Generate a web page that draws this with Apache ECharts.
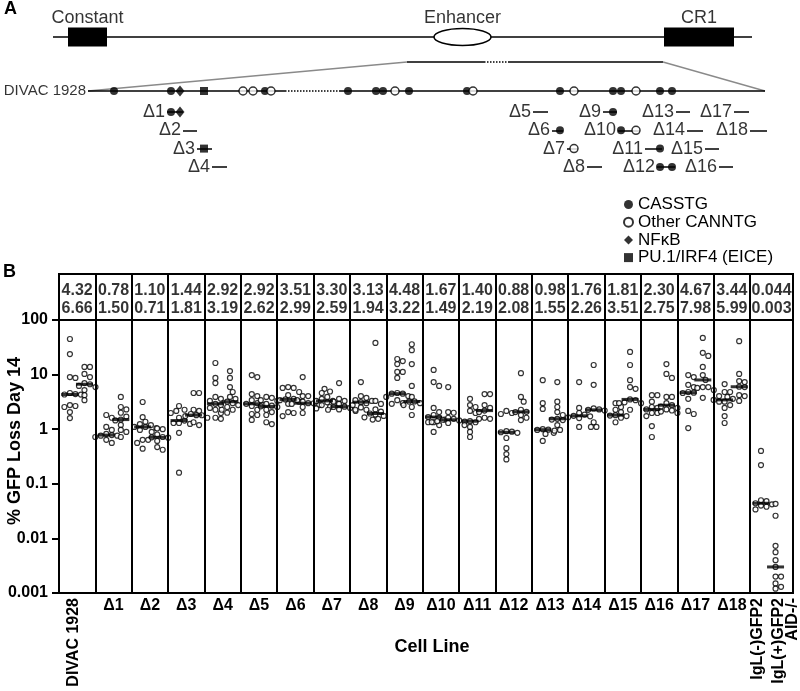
<!DOCTYPE html>
<html>
<head>
<meta charset="utf-8">
<script src="https://cdn.jsdelivr.net/npm/echarts@6/dist/echarts.min.js"></script>
<style>
  html, body { margin: 0; padding: 0; background: #fff; }
  #main { width: 800px; height: 691px; }
</style>
</head>
<body>
<div id="main"></div>
<script>
const FONT = '"Liberation Sans", Arial, Helvetica, sans-serif';

// ---------- panel B data ----------
const cellLines = ['DIVAC 1928', 'Δ1', 'Δ2', 'Δ3', 'Δ4', 'Δ5', 'Δ6', 'Δ7', 'Δ8', 'Δ9',
  'Δ10', 'Δ11', 'Δ12', 'Δ13', 'Δ14', 'Δ15', 'Δ16', 'Δ17', 'Δ18'];
const controlLines = ['IgL(-)GFP2', 'IgL(+)GFP2\nAID-/-'];

// medians printed in the table (row 1 = first group, row 2 = second group)
const medianA = [4.32, 0.78, 1.10, 1.44, 2.92, 2.92, 3.51, 3.30, 3.13, 4.48,
  1.67, 1.40, 0.88, 0.98, 1.76, 1.81, 2.30, 4.67, 3.44, 0.044];
const medianB = [6.66, 1.50, 0.71, 1.81, 3.19, 2.62, 2.99, 2.59, 1.94, 3.22,
  1.49, 2.19, 2.08, 1.55, 2.26, 3.51, 2.75, 7.98, 5.99, 0.003];

// % GFP loss at day 14, one list per cell line
const lossA = [
  [44.9, 23.8, 9.0, 8.7, 4.6, 4.4, 4.32, 4.3, 2.77, 2.66, 2.55, 2.06, 1.6],
  [1.82, 1.62, 1.10, 0.97, 0.82, 0.78, 0.76, 0.76, 0.72, 0.64, 0.56],
  [3.15, 1.66, 1.37, 1.24, 1.19, 1.10, 1.10, 1.05, 0.97, 0.64, 0.64, 0.56, 0.44],
  [2.66, 2.27, 2.16, 1.98, 1.62, 1.44, 1.30, 1.30, 1.25, 0.86, 0.16],
  [16.3, 8.7, 7.0, 3.9, 3.6, 3.3, 2.92, 2.77, 2.45, 2.27, 1.98, 1.62, 1.55],
  [9.8, 9.0, 4.4, 4.05, 3.4, 3.0, 2.92, 2.77, 2.66, 2.27, 1.9, 1.82, 1.48],
  [5.9, 5.7, 5.7, 4.8, 4.2, 3.6, 3.51, 3.4, 3.19, 2.92, 2.06, 1.98, 1.74],
  [5.5, 4.9, 4.6, 3.9, 3.6, 3.3, 3.3, 3.1, 2.99, 2.77, 2.55, 2.4],
  [7.3, 4.05, 3.75, 3.4, 3.3, 3.13, 3.0, 2.77, 2.5, 2.27, 2.27],
  [19.3, 17.7, 15.6, 11.2, 11.2, 8.7, 4.6, 4.48, 4.48, 4.05, 3.9, 3.4, 3.0, 2.92],
  [12.2, 7.3, 6.2, 2.45, 2.06, 1.82, 1.67, 1.62, 1.5, 1.34, 1.34, 1.19, 0.89],
  [3.6, 2.77, 2.55, 2.16, 1.98, 1.40, 1.34, 1.19, 1.10, 0.89, 0.72],
  [2.16, 1.98, 1.9, 0.92, 0.9, 0.88, 0.86, 0.69, 0.45, 0.35, 0.28],
  [7.9, 3.0, 2.35, 1.0, 0.98, 0.97, 0.86, 0.82, 0.61],
  [7.3, 2.45, 1.98, 1.85, 1.76, 1.72, 1.65, 1.6, 1.10],
  [3.0, 2.55, 2.27, 2.06, 1.81, 1.78, 1.74, 1.62, 1.34],
  [4.2, 4.2, 3.19, 2.55, 2.45, 2.30, 1.98, 1.98, 1.74, 1.14, 0.72],
  [9.8, 9.0, 6.5, 5.9, 4.8, 4.67, 4.6, 3.6, 2.16, 1.9, 1.05],
  [6.7, 4.8, 4.8, 4.05, 3.9, 3.6, 3.44, 3.19, 3.19, 2.77, 2.45, 1.74, 1.30],
  [0.40, 0.22, 0.050, 0.048, 0.044, 0.042, 0.040, 0.038, 0.034]
];
const lossB = [
  [13.8, 13.8, 10.3, 9.0, 7.0, 6.66, 6.2, 5.9, 5.2, 4.2, 3.4],
  [3.9, 2.55, 2.3, 2.0, 1.7, 1.5, 1.45, 1.2, 0.97, 0.89, 0.72],
  [1.03, 1.0, 0.89, 0.80, 0.72, 0.71, 0.70, 0.61, 0.47, 0.42],
  [4.6, 4.6, 2.27, 2.16, 1.9, 1.81, 1.8, 1.74, 1.62, 1.34, 1.19],
  [11.6, 8.7, 5.9, 4.8, 3.9, 3.6, 3.19, 3.0, 2.77, 2.55, 2.27, 2.27, 2.0],
  [3.9, 3.75, 3.4, 3.3, 2.9, 2.7, 2.62, 2.55, 2.27, 2.06, 1.82, 1.34, 1.24],
  [9.0, 4.05, 4.05, 3.4, 3.19, 3.0, 2.99, 2.9, 2.77, 2.55, 1.98],
  [7.0, 3.6, 3.3, 3.19, 2.9, 2.59, 2.55, 2.45, 2.3, 2.27, 2.16],
  [38, 3.3, 2.9, 2.3, 2.1, 1.94, 1.85, 1.75, 1.65, 1.55, 1.5],
  [36, 28, 15.6, 6.2, 3.9, 3.22, 3.2, 3.0, 2.77, 2.55, 1.82],
  [5.9, 2.06, 2.0, 1.62, 1.55, 1.49, 1.45, 1.4, 1.38, 1.35, 1.3],
  [4.4, 4.4, 2.77, 2.45, 2.19, 2.06, 1.62, 1.55, 1.55],
  [10.6, 3.9, 3.19, 2.27, 2.08, 2.06, 1.82, 1.62, 1.47],
  [7.3, 3.19, 2.55, 2.06, 1.82, 1.55, 1.5, 1.47, 1.19, 0.97, 0.94],
  [15, 6.5, 2.4, 2.3, 2.26, 2.2, 1.34, 1.10, 1.10],
  [26, 15, 7.9, 5.9, 5.5, 3.51, 3.4, 3.1, 3.0, 3.0, 2.27],
  [15.6, 10.3, 8.7, 3.9, 3.9, 3.0, 2.75, 2.6, 2.45, 2.3, 2.2, 2.1, 1.98],
  [47, 25, 22, 13.8, 9.8, 7.98, 5.9, 5.9, 5.7, 5.2, 3.75],
  [41, 10.3, 7.6, 7.3, 5.99, 5.9, 4.2, 4.05, 3.3],
  [0.043, 0.026, 0.0073, 0.0056, 0.0040, 0.0030, 0.0020, 0.0020, 0.0015, 0.0013, 0.0012]
];
const yTicks = [0.001, 0.01, 0.1, 1, 10, 100];

// ---------- panel A data (map positions along the schematic) ----------
const locusSpan = [53, 752];
const featureNames = ['Constant', 'Enhancer', 'CR1'];
const featureKind = ['exon', 'enhancer', 'exon'];
const featureStart = [68, 434, 664];
const featureEnd = [107, 491, 734];
const zoomSpan = [407, 663];
const zoomGap = [484, 509];
const divacSpan = [88, 765];
const divacGap = [285, 340];
const sitePos = [114, 171, 180, 204, 243, 253, 265, 271, 348, 376, 383, 395,
  409, 467, 473, 560, 574, 613, 621, 636, 660, 672];
const siteType = ['C', 'C', 'N', 'P', 'O', 'O', 'C', 'O', 'C', 'C', 'C', 'O',
  'C', 'C', 'O', 'C', 'O', 'C', 'C', 'O', 'C', 'C'];
const deletionNames = ['Δ1', 'Δ2', 'Δ3', 'Δ4', 'Δ5', 'Δ6', 'Δ7', 'Δ8', 'Δ9',
  'Δ10', 'Δ11', 'Δ12', 'Δ13', 'Δ14', 'Δ15', 'Δ16', 'Δ17', 'Δ18'];
const deletionStart = [167, 183, 197, 212, 533, 552, 567, 587, 603, 618, 645, 657, 676, 687, 705, 719, 734, 750];
const deletionEnd = [183, 197, 212, 227, 548, 563, 578, 602, 617, 640, 662, 675, 690, 703, 719, 733, 749, 767];
const deletionRow = [0, 1, 2, 3, 0, 1, 2, 3, 0, 1, 2, 3, 0, 1, 2, 3, 0, 1];

// ---------- layout ----------
const LOCUS_Y = 37, ZOOM_Y = 62, DIVAC_Y = 91;
const rowY = r => 112 + r * 18.3;
const PLOT = { left: 59, right: 7, top: 320, bottom: 98 };
const X_MAX = 20.18;               // last column is a bit wider
const pxPerUnit = (800 - PLOT.left - PLOT.right) / X_MAX;
const pxPerDecade = (691 - PLOT.top - PLOT.bottom) / 5;
const DOT = 5;

const colCenter = i => (i === 19 ? (19 + X_MAX) / 2 : i + 0.5);
const fmt = v => (v < 0.1 ? v.toFixed(3) : v.toFixed(2));

// spread points sideways so they do not overlap (bee swarm)
function swarm(values, center) {
  const placed = [];
  return values.slice().sort((a, b) => b - a).map(v => {
    const py = Math.log10(v) * pxPerDecade;
    let dx = 0;
    for (let k = 0; k < 60; k++) {
      dx = (k % 2 ? 1 : -1) * Math.ceil(k / 2) * DOT * 0.55;
      if (placed.every(p => Math.hypot(p[0] - dx, p[1] - py) >= DOT)) break;
    }
    placed.push([dx, py]);
    return [center + dx / pxPerUnit, v];
  });
}

const points = [];
const medians = [];
const tableCells = [];
lossA.forEach((vals, i) => {
  const ca = i + 0.3, cb = i + 0.7;
  points.push(...swarm(vals, ca), ...swarm(lossB[i], cb));
  medians.push([ca, medianA[i]], [cb, medianB[i]]);
  tableCells.push({ value: [colCenter(i), 1.3], name: fmt(medianA[i]) });
  tableCells.push({ value: [colCenter(i), 0.5], name: fmt(medianB[i]) });
});
const separators = [];
for (let i = 1; i < 20; i++) separators.push({ xAxis: i });

// ---------- panel A geometry from the map data ----------
const black = { color: '#000', width: 1.5, type: 'solid', opacity: 1 };
const dotted = { color: '#000', width: 1.5, type: 'dotted', opacity: 1 };
const grey = { color: '#8a8a8a', width: 1.3, type: 'solid', opacity: 1 };
const seg = (x1, y1, x2, y2, style) => ({ coords: [[x1, y1], [x2, y2]], lineStyle: style });
const mapLines = [
  seg(locusSpan[0], LOCUS_Y, locusSpan[1], LOCUS_Y, black),
  seg(zoomSpan[0], ZOOM_Y, zoomGap[0], ZOOM_Y, black),
  seg(zoomGap[0], ZOOM_Y, zoomGap[1], ZOOM_Y, dotted),
  seg(zoomGap[1], ZOOM_Y, zoomSpan[1], ZOOM_Y, black),
  seg(zoomSpan[0], ZOOM_Y, divacSpan[0], DIVAC_Y, grey),
  seg(zoomSpan[1], ZOOM_Y, divacSpan[1], DIVAC_Y, grey),
  seg(divacSpan[0], DIVAC_Y, divacGap[0], DIVAC_Y, black),
  seg(divacGap[0], DIVAC_Y, divacGap[1], DIVAC_Y, dotted),
  seg(divacGap[1], DIVAC_Y, divacSpan[1], DIVAC_Y, black)
];
deletionNames.forEach((n, i) => {
  const y = rowY(deletionRow[i]);
  mapLines.push(seg(deletionStart[i], y, deletionEnd[i], y, black));
});

const siteKinds = [
  { key: 'C', name: 'CASSTG', symbol: 'circle', size: 8, style: { color: '#000' } },
  { key: 'O', name: 'Other CANNTG', symbol: 'circle', size: 8,
    style: { color: '#fff', borderColor: '#000', borderWidth: 1.5 } },
  { key: 'N', name: 'NFκB', symbol: 'diamond', size: [9, 11], style: { color: '#000' } },
  { key: 'P', name: 'PU.1/IRF4 (EICE)', symbol: 'rect', size: 8, style: { color: '#000' } }
];
const siteSeries = siteKinds.map(k => {
  const data = [];
  sitePos.forEach((p, j) => {
    if (siteType[j] !== k.key) return;
    data.push([p, DIVAC_Y]);
    deletionNames.forEach((n, i) => {
      if (p >= deletionStart[i] && p <= deletionEnd[i]) data.push([p, rowY(deletionRow[i])]);
    });
  });
  return {
    name: k.name, type: 'scatter', xAxisIndex: 2, yAxisIndex: 2, z: 4, silent: true,
    symbol: k.symbol, symbolSize: k.size, itemStyle: k.style, data
  };
});

const mapLabels = [
  { value: [divacSpan[0], DIVAC_Y], name: 'DIVAC 1928',
    label: { position: 'left', distance: 2, fontSize: 15 } }
];
deletionNames.forEach((n, i) => mapLabels.push({
  value: [deletionStart[i], rowY(deletionRow[i])], name: n,
  label: { position: 'left', distance: 2, fontSize: 18 }
}));
featureNames.forEach((n, i) => mapLabels.push({
  value: [(featureStart[i] + featureEnd[i]) / 2, LOCUS_Y], name: n,
  label: { position: 'top', distance: 10, fontSize: 18 }
}));

const chart = echarts.init(document.getElementById('main'));
chart.setOption({
  animation: false,
  textStyle: { fontFamily: FONT, color: '#000' },
  legend: {
    orient: 'vertical', left: 618, top: 191, itemWidth: 9, itemHeight: 9, itemGap: 0.7,
    selectedMode: false, data: siteKinds.map(k => k.name),
    textStyle: { fontSize: 17, color: '#000', fontFamily: FONT, lineHeight: 17 }
  },
  grid: [
    { left: PLOT.left, right: PLOT.right, top: PLOT.top, bottom: PLOT.bottom,
      show: true, borderColor: '#000', borderWidth: 2 },
    { left: PLOT.left, right: PLOT.right, top: 274, height: 46,
      show: true, borderColor: '#000', borderWidth: 2 },
    { left: 0, top: 0, width: 800, height: 270 }
  ],
  xAxis: [
    { type: 'value', gridIndex: 0, min: 0, max: X_MAX, show: false },
    { type: 'value', gridIndex: 1, min: 0, max: X_MAX, show: false },
    { type: 'value', gridIndex: 2, min: 0, max: 800, show: false }
  ],
  yAxis: [
    { type: 'log', gridIndex: 0, logBase: 10, min: yTicks[0], max: yTicks[yTicks.length - 1],
      axisLine: { show: true, lineStyle: { color: '#000', width: 2 } },
      axisTick: { show: true, length: 7, lineStyle: { color: '#000', width: 2 } },
      splitLine: { show: false },
      axisLabel: {
        margin: 11, fontSize: 16, fontWeight: 'bold', color: '#000', fontFamily: FONT,
        formatter: v => {
          const e = Math.round(Math.log10(v));
          return e >= 0 ? String(Math.pow(10, e)) : Math.pow(10, e).toFixed(-e);
        }
      }
    },
    { type: 'value', gridIndex: 1, min: 0, max: 2, show: false },
    { type: 'value', gridIndex: 2, min: 0, max: 270, inverse: true, show: false }
  ],
  series: [
    {
      name: 'points', type: 'scatter', xAxisIndex: 0, yAxisIndex: 0, silent: true, z: 3,
      symbol: 'circle', symbolSize: DOT,
      itemStyle: { color: '#fff', borderColor: '#000', borderWidth: 1.2 },
      data: points,
      markLine: {
        silent: true, symbol: 'none', label: { show: false },
        lineStyle: { color: '#000', width: 2, type: 'solid' },
        data: separators
      }
    },
    {
      name: 'median', type: 'scatter', xAxisIndex: 0, yAxisIndex: 0, silent: true, z: 5,
      symbol: 'rect', symbolSize: [17, 3], itemStyle: { color: '#000' }, data: medians
    },
    {
      name: 'table', type: 'scatter', xAxisIndex: 1, yAxisIndex: 1, silent: true,
      symbolSize: 0, data: tableCells,
      label: { show: true, position: 'inside', formatter: p => p.name,
        fontSize: 16, fontWeight: 'bold', color: '#000', fontFamily: FONT },
      markLine: {
        silent: true, symbol: 'none', label: { show: false },
        lineStyle: { color: '#000', width: 2, type: 'solid' },
        data: separators
      }
    },
    {
      name: 'map', type: 'lines', coordinateSystem: 'cartesian2d', xAxisIndex: 2, yAxisIndex: 2,
      silent: true, z: 2, polyline: false, data: mapLines,
      lineStyle: { opacity: 1 }
    },
    {
      name: 'features', type: 'custom', xAxisIndex: 2, yAxisIndex: 2, silent: true, z: 3,
      data: featureNames.map((n, i) => [featureStart[i], featureEnd[i], LOCUS_Y, i]),
      encode: { x: [0, 1], y: 2 },
      renderItem: (params, api) => {
        const a = api.coord([api.value(0), api.value(2)]);
        const b = api.coord([api.value(1), api.value(2)]);
        if (featureKind[api.value(3)] === 'enhancer') {
          return { type: 'ellipse',
            shape: { cx: (a[0] + b[0]) / 2, cy: a[1], rx: (b[0] - a[0]) / 2, ry: 8.5 },
            style: { fill: '#fff', stroke: '#000', lineWidth: 1.5 } };
        }
        return { type: 'rect', shape: { x: a[0], y: a[1] - 9.5, width: b[0] - a[0], height: 19 },
          style: { fill: '#000' } };
      }
    },
    ...siteSeries,
    {
      name: 'mapLabels', type: 'scatter', xAxisIndex: 2, yAxisIndex: 2, silent: true,
      symbolSize: 0, data: mapLabels,
      label: { show: true, formatter: p => p.name, color: '#000', fontFamily: FONT }
    }
  ]
});

// axis labels of panel B placed through the chart's own coordinate conversion
const toPx = (x, v) => chart.convertToPixel({ xAxisIndex: 0, yAxisIndex: 0 }, [x, v]);
const base = toPx(0, yTicks[0])[1];
const bold16 = 'bold 16px ' + FONT;
const txt = (x, y, text, font, align, vAlign, rotation) => ({
  type: 'text', x, y, rotation: rotation || 0, silent: true,
  style: { text, font, fill: '#000', align, verticalAlign: vAlign,
    textAlign: align, textVerticalAlign: vAlign, lineHeight: 14 }
});
const graphics = [
  txt(4, 9, 'A', 'bold 18px ' + FONT, 'left', 'middle'),
  txt(3, 272, 'B', 'bold 18px ' + FONT, 'left', 'middle'),
  txt(15, 441, '% GFP Loss Day 14', 'bold 18px ' + FONT, 'center', 'middle', Math.PI / 2),
  txt(432, 647, 'Cell Line', 'bold 18px ' + FONT, 'center', 'middle'),
  txt(toPx(0.4, 1)[0], base + 5, cellLines[0], bold16, 'right', 'middle', Math.PI / 2),
  txt(toPx(19.3, 1)[0] - 3, base + 5, controlLines[0], bold16, 'right', 'middle', Math.PI / 2),
  txt(toPx(19.7, 1)[0] + 10, base + 5, controlLines[1], bold16, 'right', 'middle', Math.PI / 2)
];
for (let i = 1; i < cellLines.length; i++) {
  graphics.push(txt(toPx(colCenter(i), 1)[0], base + 13, cellLines[i], bold16, 'center', 'middle'));
}
chart.setOption({ graphic: graphics });
</script>
</body>
</html>
